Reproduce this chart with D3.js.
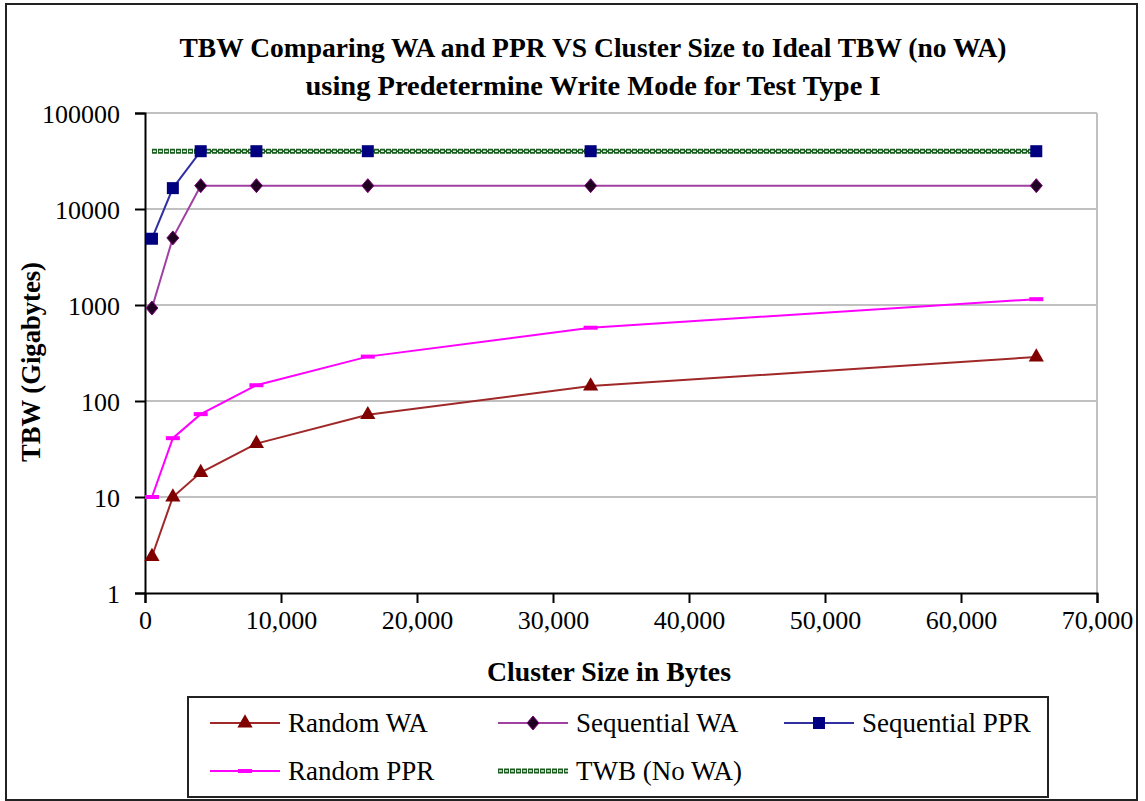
<!DOCTYPE html>
<html>
<head>
<meta charset="utf-8">
<script src="https://cdn.jsdelivr.net/npm/d3@7/dist/d3.min.js"></script>
<style>
  body { margin: 0; background: white; }
  svg text { font-family: "Liberation Serif", "Tinos", "DejaVu Serif", serif; }
</style>
</head>
<body>
<div id="chart"></div>
<script>
// Datos
const clusterSizes = [512, 2048, 4096, 8192, 16384, 32768, 65536];
const randomWA = [2.4, 10, 18, 36, 72, 143, 287];
const sequentialWA = [930, 5000, 17500, 17500, 17500, 17500, 17500];
const sequentialPPR = [4900, 16500, 40000, 40000, 40000, 40000, 40000];
const randomPPR = [10, 41, 73, 146, 290, 580, 1150];
const twbNoWA = [40000, 40000, 40000, 40000, 40000, 40000, 40000];
const yTicks = [1, 10, 100, 1000, 10000, 100000];
const xTicks = [0, 10000, 20000, 30000, 40000, 50000, 60000, 70000];

const W = 1145, H = 801;
const margin = { left: 145, right: 48, top: 113, bottom: 208 };
const serif = "'Liberation Serif', 'Tinos', 'DejaVu Serif', serif";

const svg = d3.select("#chart").append("svg")
  .attr("width", W).attr("height", H)
  .attr("font-family", serif);

// Marco exterior
svg.append("rect")
  .attr("x", 6).attr("y", 4).attr("width", 1131).attr("height", 796)
  .attr("fill", "white").attr("stroke", "#222").attr("stroke-width", 2);

const x = d3.scaleLinear().domain([0, 70000]).range([margin.left, W - margin.right]);
const y = d3.scaleLog().domain([1, 100000]).range([H - margin.bottom, margin.top]);

// Título
svg.append("text").attr("x", 593).attr("y", 57).attr("text-anchor", "middle")
  .style("font-size", "27px").style("font-weight", "bold")
  .attr("textLength", 827).attr("lengthAdjust", "spacingAndGlyphs")
  .text("TBW Comparing WA and PPR VS Cluster Size to Ideal TBW (no WA)");
svg.append("text").attr("x", 593).attr("y", 95).attr("text-anchor", "middle")
  .style("font-size", "27px").style("font-weight", "bold")
  .attr("textLength", 575).attr("lengthAdjust", "spacingAndGlyphs")
  .text("using Predetermine Write Mode for Test Type I");

// Rejilla
svg.append("g").selectAll("line")
  .data(yTicks.slice(1))
  .enter().append("line")
  .attr("x1", x(0)).attr("x2", x(70000))
  .attr("y1", d => y(d)).attr("y2", d => y(d))
  .attr("stroke", "#c0c0c0").attr("stroke-width", 2);
svg.append("line")
  .attr("x1", x(70000)).attr("x2", x(70000))
  .attr("y1", y(100000)).attr("y2", y(1))
  .attr("stroke", "#c0c0c0").attr("stroke-width", 2);

// Ejes
const yAxis = svg.append("g").attr("transform", `translate(${margin.left},0)`)
  .call(d3.axisLeft(y).tickValues(yTicks).tickFormat(d3.format("d")).tickSizeOuter(0).tickSize(10));
const xAxis = svg.append("g").attr("transform", `translate(0,${H - margin.bottom})`)
  .call(d3.axisBottom(x).tickValues(xTicks).tickFormat(d3.format(",")).tickSizeOuter(0).tickSize(10));
[yAxis, xAxis].forEach(a => {
  a.attr("font-family", serif);
  a.select(".domain").attr("stroke", "#000").attr("stroke-width", 2);
  a.selectAll(".tick line").attr("stroke", "#000").attr("stroke-width", 2);
  a.selectAll("text").style("font-size", "26px").attr("fill", "#000")
    .style("font-family", serif);
});
yAxis.selectAll("text").attr("x", -25).attr("dy", "0.35em");
xAxis.selectAll("text").attr("y", 27).attr("dy", "0.35em");

// Títulos de ejes
svg.append("text").attr("x", 609).attr("y", 681).attr("text-anchor", "middle")
  .style("font-size", "28px").style("font-weight", "bold")
  .attr("textLength", 244).attr("lengthAdjust", "spacingAndGlyphs")
  .text("Cluster Size in Bytes");
svg.append("text").attr("transform", "translate(40,362) rotate(-90)").attr("text-anchor", "middle")
  .style("font-size", "28px").style("font-weight", "bold")
  .attr("textLength", 200).attr("lengthAdjust", "spacingAndGlyphs")
  .text("TBW (Gigabytes)");

const series = [
  { name: "Random WA", values: randomWA, color: "#a02828", marker: "triangle", mcolor: "#800000" },
  { name: "Sequential WA", values: sequentialWA, color: "#a040a0", marker: "diamond", mcolor: "#200020" },
  { name: "Sequential PPR", values: sequentialPPR, color: "#3030a0", marker: "square", mcolor: "#000080" },
  { name: "Random PPR", values: randomPPR, color: "#ff00ff", marker: "dash", mcolor: "#ff00ff" },
  { name: "TWB (No WA)", values: twbNoWA, color: "#1b5e20", marker: "none", mcolor: "#1b5e20" }
];

const line = d3.line().x(d => x(d[0])).y(d => y(d[1]));

const drawMarker = (g, type, color, cx, cy) => {
  if (type === "triangle") {
    g.append("path").attr("d", d3.symbol().type(d3.symbolTriangle).size(100)())
      .attr("transform", `translate(${cx},${cy})`).attr("fill", color);
  } else if (type === "diamond") {
    g.append("path").attr("d", "M0,-7L6,0L0,7L-6,0Z")
      .attr("transform", `translate(${cx},${cy})`).attr("fill", color).attr("stroke", "#800080");
  } else if (type === "square") {
    g.append("rect").attr("x", cx - 6).attr("y", cy - 6).attr("width", 12).attr("height", 12)
      .attr("fill", color);
  } else if (type === "dash") {
    g.append("rect").attr("x", cx - 7).attr("y", cy - 2).attr("width", 14).attr("height", 4)
      .attr("fill", color);
  }
};

const drawStyledLine = (g, pathD, s) => {
  if (s.marker === "none") {
    // línea de pequeños círculos verdes
    g.append("path").attr("d", pathD).attr("fill", "none")
      .attr("stroke", s.color).attr("stroke-width", 5)
      .attr("stroke-dasharray", "5,1");
    g.append("path").attr("d", pathD).attr("fill", "none")
      .attr("stroke", "#e8f0e8").attr("stroke-width", 1.6)
      .attr("stroke-dasharray", "3,3").attr("stroke-dashoffset", -1);
  } else {
    g.append("path").attr("d", pathD).attr("fill", "none")
      .attr("stroke", s.color).attr("stroke-width", 2);
  }
};

// Dibujar series: líneas primero (TWB encima de Sequential PPR), luego marcadores
const plot = svg.append("g");
const lineOrder = [series[3], series[0], series[1], series[2], series[4]];
lineOrder.forEach(s => {
  const pts = clusterSizes.map((c, i) => [c, s.values[i]]);
  drawStyledLine(plot.append("g"), line(pts), s);
});
lineOrder.forEach(s => {
  const g = plot.append("g");
  clusterSizes.forEach((c, i) => drawMarker(g, s.marker, s.mcolor, x(c), y(s.values[i])));
});

// Leyenda
const legend = svg.append("g");
legend.append("rect").attr("x", 188).attr("y", 697).attr("width", 860).attr("height", 100)
  .attr("fill", "white").attr("stroke", "#222").attr("stroke-width", 2);
const legPos = [
  { x: 210, y: 723 }, { x: 498, y: 723 }, { x: 784, y: 723 },
  { x: 210, y: 771 }, { x: 498, y: 771 }
];
series.forEach((s, i) => {
  const p = legPos[i];
  const g = legend.append("g");
  drawStyledLine(g, `M${p.x},${p.y}L${p.x + 70},${p.y}`, s);
  drawMarker(g, s.marker, s.mcolor, p.x + 35, p.y);
  g.append("text").attr("x", p.x + 78).attr("y", p.y).attr("dy", "0.35em")
    .style("font-size", "27px").text(s.name);
});
</script>
</body>
</html>
